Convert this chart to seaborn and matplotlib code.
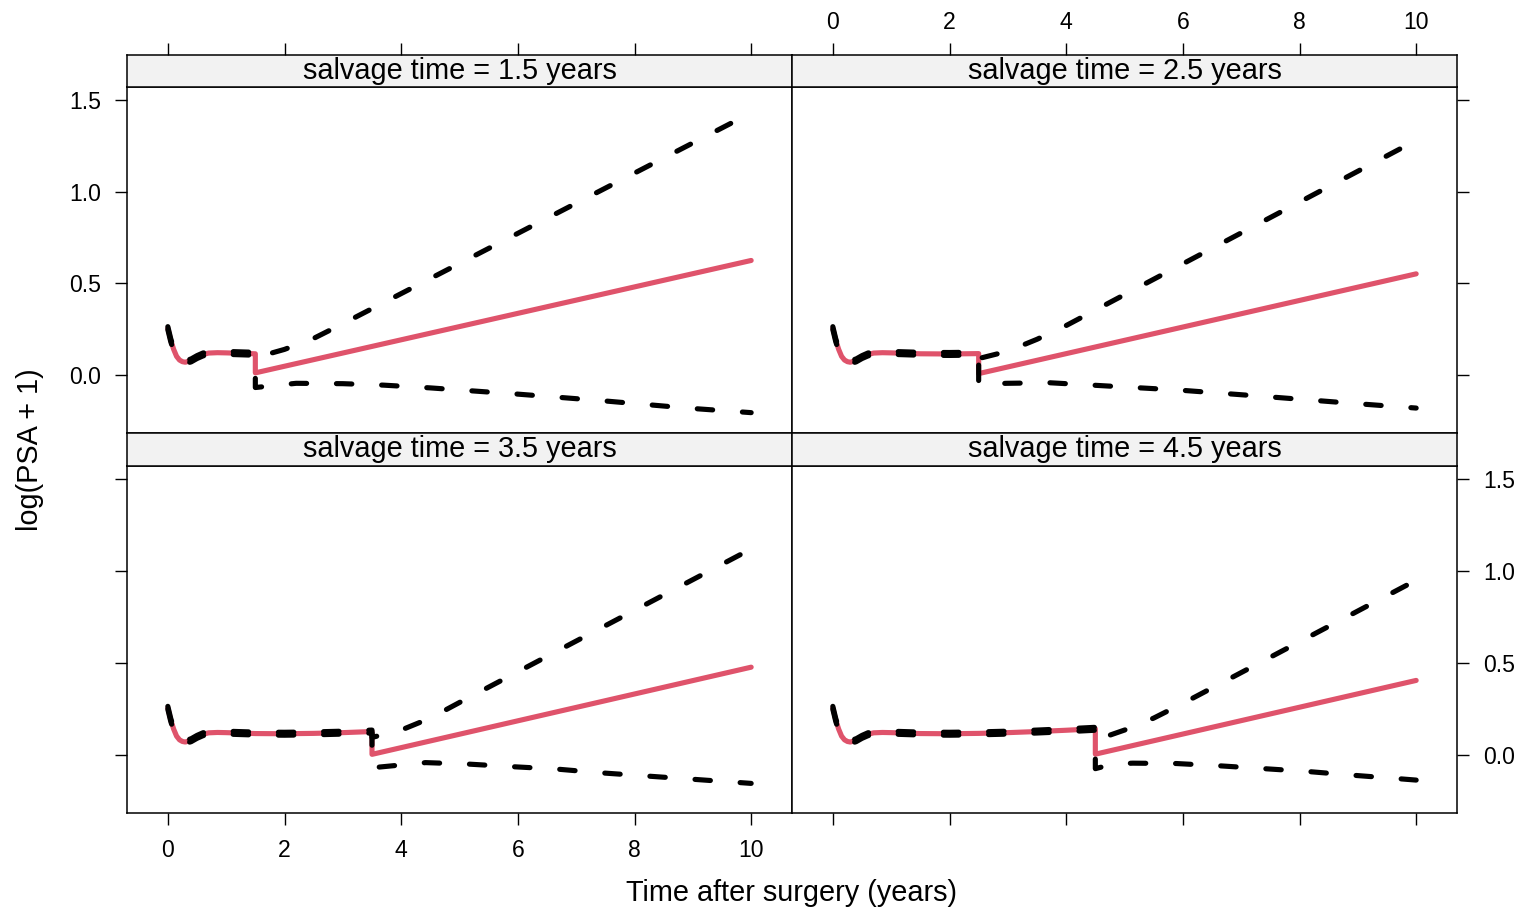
import matplotlib
matplotlib.use("Agg")
import matplotlib.pyplot as plt
import pandas as pd
import seaborn as sns

# ---- data -----------------------------------------------------------------
salvage_times = [1.5, 2.5, 3.5, 4.5]
strip_labels = ["salvage time = 1.5 years", "salvage time = 2.5 years",
                "salvage time = 3.5 years", "salvage time = 4.5 years"]

# fitted log(PSA + 1) before salvage therapy (common to every panel)
pre_time = [0.0, 0.05, 0.1, 0.15, 0.2, 0.25, 0.3, 0.4, 0.5, 0.6, 0.7, 0.85,
            1.0, 1.5, 2.0, 2.5, 3.0, 3.5, 4.0, 4.5]
pre_fit = [0.256, 0.19, 0.14, 0.102, 0.082, 0.073, 0.07, 0.08, 0.098, 0.112,
           0.12, 0.122, 0.121, 0.116, 0.115, 0.117, 0.121, 0.127, 0.134, 0.142]
pre_halfwidth = 0.008

# fitted line after salvage therapy (straight): start and end at 10 years
post_fit_start = [0.012, 0.008, 0.003, 0.004]
post_fit_end = [0.625, 0.552, 0.477, 0.405]
post_end_time = 10.0

# upper pointwise band after salvage
upper_time = [[1.5, 2.0, 2.5, 3.0, 10.0],
              [2.5, 3.0, 3.5, 4.0, 10.0],
              [3.5, 4.0, 4.5, 5.0, 10.0],
              [4.5, 5.0, 5.5, 6.0, 10.0]]
upper_value = [[0.095, 0.14, 0.2, 0.28, 1.43],
               [0.09, 0.13, 0.195, 0.27, 1.28],
               [0.095, 0.135, 0.2, 0.285, 1.12],
               [0.08, 0.135, 0.2, 0.28, 0.95]]

# lower pointwise band after salvage
lower_time = [[1.5, 2.2, 3.0, 3.7, 4.5, 6.0, 7.45, 8.9, 10.0],
              [2.5, 2.98, 3.72, 4.45, 5.94, 7.45, 8.94, 10.0],
              [3.5, 4.42, 5.15, 5.9, 6.66, 7.4, 8.89, 10.0],
              [4.5, 4.8, 5.14, 5.89, 6.66, 7.4, 8.13, 8.89, 9.64, 10.0]]
lower_value = [[-0.068, -0.045, -0.047, -0.055, -0.07, -0.104, -0.14, -0.18, -0.205],
               [-0.05, -0.045, -0.042, -0.055, -0.082, -0.118, -0.155, -0.18],
               [-0.07, -0.042, -0.05, -0.064, -0.077, -0.097, -0.13, -0.155],
               [-0.075, -0.05, -0.045, -0.047, -0.06, -0.075, -0.09, -0.11, -0.128, -0.137]]

x_ticks = [0, 2, 4, 6, 8, 10]
y_ticks = [0.0, 0.5, 1.0, 1.5]
y_tick_labels = ["0.0", "0.5", "1.0", "1.5"]

# ---- style ------------------------------------------------------------------
sns.set_theme(style="white")
plt.rcParams["font.family"] = ["Liberation Sans", "DejaVu Sans"]
plt.rcParams["axes.linewidth"] = 1.1
plt.rcParams["text.color"] = "black"
plt.rcParams["axes.labelcolor"] = "black"

FIT_COLOR = "#DF536B"
STRIP_COLOR = "#F2F2F2"
XLIM = (-0.7, 10.7)
YLIM = (-0.316, 1.571)
W, H = 1524, 911
TICK_KW = dict(direction="out", length=8.6, width=1.0, pad=10,
               labelsize=16.6, colors="black")


def panel_frame(i):
    """Long-form table of the three curves of one panel."""
    s = salvage_times[i]
    rows = []
    pre = [(t, v) for t, v in zip(pre_time, pre_fit) if t <= s]
    for t, v in pre:
        rows.append((t, v, "fit"))
    rows.append((s, post_fit_start[i], "fit"))
    rows.append((post_end_time, post_fit_end[i], "fit"))
    for t, v in pre:
        rows.append((t, v - pre_halfwidth, "lower"))
    for t, v in zip(lower_time[i], lower_value[i]):
        rows.append((t, v, "lower"))
    for t, v in pre:
        rows.append((t, v + pre_halfwidth, "upper"))
    for t, v in zip(upper_time[i], upper_value[i]):
        rows.append((t, v, "upper"))
    return pd.DataFrame(rows, columns=["time", "value", "curve"])


def px_axes(fig, x0, y0, x1, y1):
    return fig.add_axes([x0 / W, 1 - y1 / H, (x1 - x0) / W, (y1 - y0) / H])


fig = plt.figure(figsize=(W / 100, H / 100), dpi=100)

# pixel boxes
cols = [(127, 792), (792, 1457)]
rows_px = [(55, 87, 433), (433, 466, 813)]

for i in range(4):
    r, c = divmod(i, 2)
    x0, x1 = cols[c]
    st, pt, pb = rows_px[r]
    ax = px_axes(fig, x0, pt, x1, pb)
    sax = px_axes(fig, x0, st, x1, pt)

    sns.lineplot(data=panel_frame(i), x="time", y="value",
                 hue="curve", style="curve",
                 hue_order=["fit", "lower", "upper"],
                 style_order=["fit", "lower", "upper"],
                 palette={"fit": FIT_COLOR, "lower": "black", "upper": "black"},
                 dashes={"fit": "", "lower": (3.0, 5.8), "upper": (3.0, 5.8)},
                 estimator=None, sort=False, legend=False, linewidth=3.7,
                 solid_capstyle="round", dash_capstyle="round",
                 solid_joinstyle="round", dash_joinstyle="round", ax=ax)

    ax.set_xlim(*XLIM)
    ax.set_ylim(*YLIM)
    ax.set_xlabel("")
    ax.set_ylabel("")
    ax.set_facecolor("white")
    for sp in ax.spines.values():
        sp.set_color("black")
        sp.set_linewidth(1.1)
        sp.set_visible(True)
    ax.set_xticks(x_ticks)
    ax.set_yticks(y_ticks)
    ax.set_yticklabels(y_tick_labels)
    ax.tick_params(**TICK_KW)
    ax.tick_params(top=False, labeltop=False)

    # x ticks: bottom row only; labels on the left column
    ax.tick_params(axis="x", bottom=(r == 1), labelbottom=(r == 1 and c == 0))
    # y ticks: left column shows left ticks, right column right ticks
    if c == 0:
        ax.tick_params(axis="y", left=True, labelleft=(r == 0),
                       right=False, labelright=False)
    else:
        ax.tick_params(axis="y", left=False, labelleft=False,
                       right=True, labelright=(r == 1))

    # strip
    sax.set_xlim(*XLIM)
    sax.set_ylim(0, 1)
    sax.set_facecolor(STRIP_COLOR)
    for sp in sax.spines.values():
        sp.set_color("black")
        sp.set_linewidth(1.1)
        sp.set_visible(True)
    sax.set_yticks([])
    sax.text(0.5, 0.5, strip_labels[i], transform=sax.transAxes,
             ha="center", va="center", fontsize=20.8, color="black")
    if r == 0:
        sax.set_xticks(x_ticks)
        sax.tick_params(**TICK_KW)
        sax.tick_params(axis="x", bottom=False, labelbottom=False,
                        top=True, labeltop=(c == 1), pad=6.5)
    else:
        sax.set_xticks([])

fig.text(30 / W, 1 - 450 / H, "log(PSA + 1)", rotation=90,
         ha="center", va="center", fontsize=20.8, color="black")
fig.text(792 / W, 1 - 893 / H, "Time after surgery (years)",
         ha="center", va="center", fontsize=20.8, color="black")

fig.savefig("out.png", dpi=100, facecolor="white")
